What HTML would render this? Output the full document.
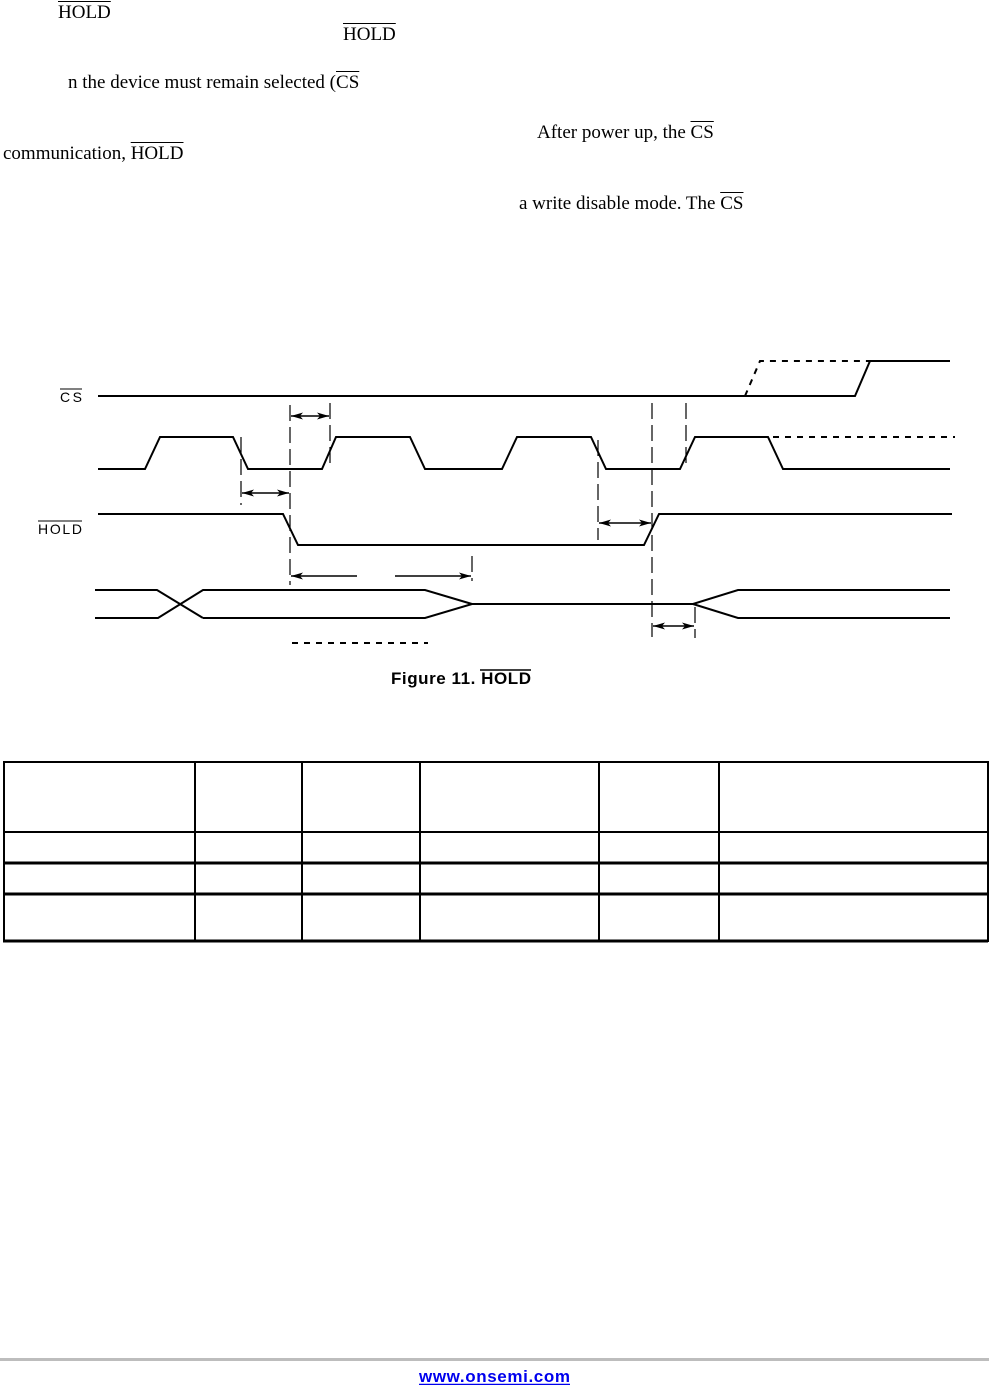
<!DOCTYPE html>
<html><head><meta charset="utf-8"><style>
body{margin:0;width:989px;height:1385px;background:#fff;position:relative;overflow:hidden}
.t{position:absolute;font-family:"Liberation Serif",serif;font-size:19px;color:#000;white-space:nowrap;line-height:1}
.o{text-decoration:overline}
svg{position:absolute;left:0;top:0}
</style></head><body>
<div class="t" style="left:58px;top:3px"><span class="o">HOLD</span></div>
<div class="t" style="left:343px;top:25px"><span class="o">HOLD</span></div>
<div class="t" style="left:68px;top:73px">n the device must remain selected (<span class="o">CS</span></div>
<div class="t" style="left:537px;top:123px">After power up, the <span class="o">CS</span></div>
<div class="t" style="left:3px;top:144px">communication, <span class="o">HOLD</span></div>
<div class="t" style="left:519px;top:194px">a write disable mode. The <span class="o">CS</span></div>
<svg width="989" height="1385" xmlns="http://www.w3.org/2000/svg">
<defs>
<marker id="a" viewBox="0 0 12 8" refX="12" refY="4" markerWidth="12" markerHeight="8" orient="auto-start-reverse" markerUnits="userSpaceOnUse"><path d="M0,0.5 L12,4 L0,7.5 L3,4 Z" fill="#000"/></marker>
</defs>
<g fill="none" stroke="#000" stroke-width="2">
<polyline points="98,396 855,396 870,361 950,361"/>
<polyline points="98,469 145,469 160,437 233,437 248,469 322,469 336,437 410,437 425,469 502,469 517,437 591,437 606,469 680,469 695,437 768,437 783,469 950,469"/>
<polyline points="98,514 283,514 298,545 644,545 659,514 952,514"/>
<polyline points="95,590 157,590 203,618"/>
<polyline points="95,618 158,618 203,590 425,590 472,604"/>
<polyline points="203,618 425,618 472,604 693,604 738,590 950,590"/>
<polyline points="693,604 738,618 950,618"/>
</g>
<g fill="none" stroke="#000" stroke-width="2" stroke-dasharray="6,6">
<polyline points="745,396 760,361 870,361"/>
<line x1="773" y1="437" x2="955" y2="437"/>
<line x1="292" y1="643" x2="428" y2="643"/>
</g>
<g stroke="#000" stroke-width="1.2" stroke-dasharray="16,6">
<line x1="241" y1="437" x2="241" y2="505"/>
<line x1="290" y1="405" x2="290" y2="585"/>
<line x1="330" y1="403" x2="330" y2="465"/>
<line x1="598" y1="440" x2="598" y2="540"/>
<line x1="652" y1="403" x2="652" y2="637"/>
<line x1="686" y1="403" x2="686" y2="465"/>
<line x1="472" y1="556" x2="472" y2="581"/>
<line x1="695" y1="607" x2="695" y2="638"/>
</g>
<g stroke="#000" stroke-width="1.5">
<line x1="291" y1="416" x2="329" y2="416" marker-start="url(#a)" marker-end="url(#a)"/>
<line x1="242" y1="493" x2="289" y2="493" marker-start="url(#a)" marker-end="url(#a)"/>
<line x1="599" y1="523" x2="651" y2="523" marker-start="url(#a)" marker-end="url(#a)"/>
<line x1="291" y1="576" x2="357" y2="576" marker-start="url(#a)"/>
<line x1="395" y1="576" x2="471" y2="576" marker-end="url(#a)"/>
<line x1="653" y1="626" x2="694" y2="626" marker-start="url(#a)" marker-end="url(#a)"/>
</g>
<text x="60" y="402" font-family="Liberation Sans,sans-serif" font-size="14" textLength="22">CS</text>
<line x1="60" y1="389" x2="82" y2="389" stroke="#000" stroke-width="1"/>
<text x="38" y="534" font-family="Liberation Sans,sans-serif" font-size="14" textLength="44">HOLD</text>
<line x1="38" y1="521" x2="82" y2="521" stroke="#000" stroke-width="1"/>
<text x="391" y="684" font-family="Liberation Sans,sans-serif" font-size="17" font-weight="bold" textLength="140">Figure 11. HOLD</text>
<line x1="480" y1="670" x2="531" y2="670" stroke="#000" stroke-width="1.5"/>
<g stroke="#000" stroke-width="2">
<line x1="3" y1="762" x2="988" y2="762"/>
<line x1="3" y1="832" x2="988" y2="832"/>
<line x1="3" y1="863" x2="988" y2="863" stroke-width="3"/>
<line x1="3" y1="894" x2="988" y2="894" stroke-width="3"/>
<line x1="3" y1="941" x2="988" y2="941" stroke-width="3"/>
<line x1="4" y1="761" x2="4" y2="942"/>
<line x1="195" y1="761" x2="195" y2="942"/>
<line x1="302" y1="761" x2="302" y2="942"/>
<line x1="420" y1="761" x2="420" y2="942"/>
<line x1="599" y1="761" x2="599" y2="942"/>
<line x1="719" y1="761" x2="719" y2="942"/>
<line x1="988" y1="761" x2="988" y2="942"/>
</g>
<rect x="0" y="1358" width="989" height="3" fill="#bdbdbd"/>
<text x="419" y="1382" font-family="Liberation Sans,sans-serif" font-size="17" font-weight="bold" fill="#0000ee" textLength="151">www.onsemi.com</text>
<line x1="419" y1="1384.5" x2="570" y2="1384.5" stroke="#0000ee" stroke-width="1.5"/>
</svg>
</body></html>
